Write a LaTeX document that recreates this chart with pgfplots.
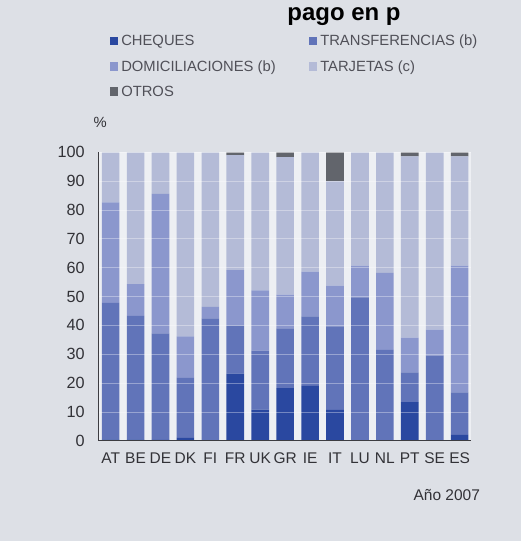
\documentclass[border=0pt]{standalone}
\usepackage{fontspec}
\setmainfont{Liberation Sans}
\usepackage{pgfplots}
\pgfplotsset{compat=1.18}
\usepackage{pgfplotstable}

\definecolor{card}{RGB}{221,224,230}
\definecolor{plotbg}{RGB}{237,239,243}
\definecolor{cheq}{RGB}{42,72,160}
\definecolor{transf}{RGB}{97,116,185}
\definecolor{domic}{RGB}{139,151,205}
\definecolor{tarj}{RGB}{180,187,215}
\definecolor{otros}{RGB}{98,101,108}
\definecolor{txt}{RGB}{50,50,55}
\definecolor{legtxt}{RGB}{80,80,88}
\definecolor{axisgray}{RGB}{60,60,65}

% Share of each payment instrument (%), 2007
\pgfplotstableread{
x cat ch tr dom tar ot
0 AT 0.5 47.3 34.8 17.4 0
1 BE 0.5 42.8 11.0 45.7 0
2 DE 0.3 36.9 48.4 14.4 0
3 DK 1.0 20.8 14.4 63.8 0
4 FI 0.1 42.3 4.0 53.6 0
5 FR 23.3 16.7 19.2 39.8 1.0
6 UK 10.8 20.5 20.8 47.9 0
7 GR 18.3 20.7 11.7 47.6 1.7
8 IE 19.0 24.1 15.5 41.4 0
9 IT 10.7 29.0 14.1 36.2 10.0
10 LU 0 49.7 11.0 39.3 0
11 NL 0 31.5 26.7 41.8 0
12 PT 13.4 10.3 12.1 62.8 1.4
13 SE 0 29.5 9.0 61.5 0
14 ES 2.1 14.7 43.9 37.9 1.4
}\payments

\begin{document}
\begin{tikzpicture}
\clip (0,0) rectangle (13,13.5);
\fill[card] (0,0) rectangle (13,13.5);
\node[anchor=base west, font=\bfseries\fontsize{17}{19}\selectfont] at (7.05,12.98) {pago en p};
\begin{axis}[
  at={(2.45cm,2.5cm)}, anchor=south west,
  scale only axis, width=9.3cm, height=7.2cm,
  ybar stacked, bar width=0.44cm,
  xmin=-0.5, xmax=14.45, ymin=0, ymax=100,
  xtick={0,...,14},
  xticklabels={AT,BE,DE,DK,FI,FR,UK,GR,IE,IT,LU,NL,PT,SE,ES},
  ytick={0,10,...,100},
  axis lines*=left,
  axis line style={draw=axisgray, line width=0.8pt},
  major tick length=0pt,
  ymajorgrids, grid style={white, opacity=0.35, line width=0.6pt},
  axis on top,
  axis background/.style={fill=plotbg},
  tick label style={font=\fontsize{11.5}{13}\selectfont, text=txt},
  xticklabel style={yshift=-5pt, font=\fontsize{11}{13}\selectfont},
  yticklabel style={xshift=-6pt},
  /pgf/number format/assume math mode=true,
  legend columns=2,
  legend cell align=left,
  legend style={at={(0.03,1.417)}, anchor=north west, draw=none, fill=none,
    font=\fontsize{10.5}{12}\selectfont, text=legtxt, inner sep=0pt,
    row sep=5pt, /tikz/every even column/.append style={column sep=0.75cm}},
  legend image code/.code={\fill[#1] (0cm,-0.1cm) rectangle (0.22cm,0.12cm);},
  clip=false,
]
\addplot[fill=cheq, draw=none] table[x=x, y=ch]{\payments};
\addlegendentry{CHEQUES}
\addplot[fill=transf, draw=none] table[x=x, y=tr]{\payments};
\addlegendentry{TRANSFERENCIAS (b)}
\addplot[fill=domic, draw=none] table[x=x, y=dom]{\payments};
\addlegendentry{DOMICILIACIONES (b)}
\addplot[fill=tarj, draw=none] table[x=x, y=tar]{\payments};
\addlegendentry{TARJETAS (c)}
\addplot[fill=otros, draw=none] table[x=x, y=ot]{\payments};
\addlegendentry{OTROS}
\node[font=\fontsize{10.5}{12}\selectfont, text=txt] at (rel axis cs:0,1) [yshift=0.75cm, xshift=0.05cm] {\%};
\node[anchor=east, font=\fontsize{11}{13}\selectfont, text=txt] at (rel axis cs:1,0) [xshift=0.35cm, yshift=-1.35cm] {Año 2007};
\end{axis}
\end{tikzpicture}
\end{document}
